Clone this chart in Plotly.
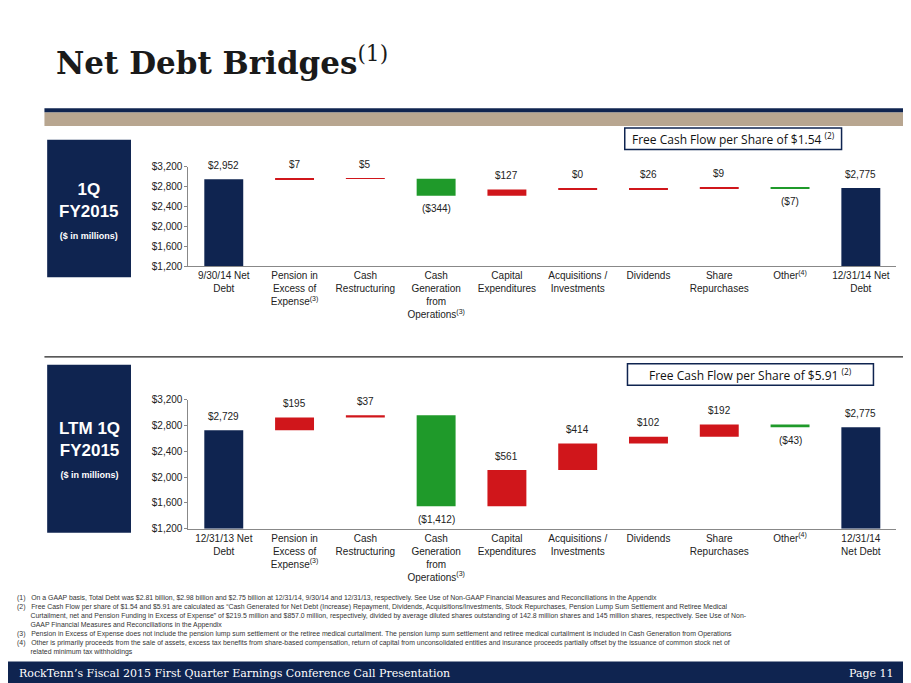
import plotly.graph_objects as go

cats_top = ["9/30/14 Net<br>Debt", "Pension in<br>Excess of<br>Expense<sup>(3)</sup>", "Cash<br>Restructuring",
            "Cash<br>Generation<br>from<br>Operations<sup>(3)</sup>", "Capital<br>Expenditures",
            "Acquisitions /<br>Investments", "Dividends", "Share<br>Repurchases", "Other<sup>(4)</sup>",
            "12/31/14 Net<br>Debt"]
cats_bot = ["12/31/13 Net<br>Debt", "Pension in<br>Excess of<br>Expense<sup>(3)</sup>", "Cash<br>Restructuring",
            "Cash<br>Generation<br>from<br>Operations<sup>(3)</sup>", "Capital<br>Expenditures",
            "Acquisitions /<br>Investments", "Dividends", "Share<br>Repurchases", "Other<sup>(4)</sup>",
            "12/31/14<br>Net Debt"]
top_vals = [2952, 7, 5, -344, 127, 0, 26, 9, -7, 2775]
bot_vals = [2729, 195, 37, -1412, 561, 414, 102, 192, -43, 2775]
tick_vals = [1200, 1600, 2000, 2400, 2800, 3200]

NAVY = "#0f2450"
RED = "#d0161b"
GREEN = "#1f9a2a"

fig = go.Figure()


def fmt(v):
    return f"(${abs(v):,})" if v < 0 else f"${v:,}"


def add_bridge(vals, xa, ya):
    run = vals[0]
    bases, heights, colors = [], [], []
    for i, v in enumerate(vals):
        if i == 0 or i == len(vals) - 1:
            bases.append(1200); heights.append(v - 1200); colors.append(NAVY)
        else:
            lo = run + min(v, 0)
            bases.append(lo); heights.append(max(abs(v), 12)); colors.append(GREEN if v < 0 else RED)
            run += v
    idx = list(range(len(vals)))
    fig.add_trace(go.Bar(x=idx, y=heights, base=bases, marker_color=colors, width=0.55,
                         marker_line_width=0, xaxis=xa, yaxis=ya, showlegend=False))
    for i, v in enumerate(vals):
        if v < 0:
            fig.add_annotation(x=i, y=bases[i], text=fmt(v), yshift=-13, showarrow=False,
                               xref=xa, yref=ya, font=dict(family="Liberation Sans", size=10, color="#222"))
        else:
            fig.add_annotation(x=i, y=bases[i] + heights[i], text=fmt(v), yshift=14, showarrow=False,
                               xref=xa, yref=ya, font=dict(family="Liberation Sans", size=10, color="#222"))


add_bridge(top_vals, "x", "y")
add_bridge(bot_vals, "x2", "y2")

axfont = dict(family="Liberation Sans", size=10, color="#222")
for name, cats in (("xaxis", cats_top), ("xaxis2", cats_bot)):
    fig.layout[name] = dict(domain=[0.198, 0.975], range=[-0.5, 9.5], tickvals=list(range(10)), ticktext=cats,
                            tickfont=axfont, showline=True, linecolor="#888", ticks="", showgrid=False)
fig.layout.xaxis.anchor = "y"
fig.layout.xaxis2.anchor = "y2"
for name, dom in (("yaxis", [0.624, 0.772]), ("yaxis2", [0.233, 0.425])):
    fig.layout[name] = dict(domain=dom, range=[1200, 3200], tickvals=tick_vals,
                            ticktext=[f"${t:,}" for t in tick_vals], tickfont=axfont,
                            showline=True, linecolor="#888", ticks="outside", ticklen=3, tickcolor="#888",
                            showgrid=False)
fig.layout.yaxis.anchor = "x"
fig.layout.yaxis2.anchor = "x2"

shapes = [
    dict(type="rect", xref="paper", yref="paper", x0=0.04, x1=1, y0=1 - 114 / 683, y1=1 - 100 / 683,
         fillcolor="#b8a690", line_width=0),
    dict(type="rect", xref="paper", yref="paper", x0=0.04, x1=1, y0=1 - 100 / 683, y1=1 - 96 / 683,
         fillcolor=NAVY, line_width=0),
    dict(type="rect", xref="paper", yref="paper", x0=0.043, x1=0.135, y0=1 - 268 / 683, y1=1 - 128 / 683,
         fillcolor=NAVY, line_width=0),
    dict(type="rect", xref="paper", yref="paper", x0=0.043, x1=0.135, y0=1 - 528 / 683, y1=1 - 357 / 683,
         fillcolor=NAVY, line_width=0),
    dict(type="line", xref="paper", yref="paper", x0=0.04, x1=0.985, y0=1 - 349 / 683, y1=1 - 349 / 683,
         line=dict(color="#222", width=1.2)),
    dict(type="rect", xref="paper", yref="paper", x0=0, x1=1, y0=0, y1=24 / 683,
         fillcolor=NAVY, line_width=0),
    dict(type="rect", xref="paper", yref="paper", x0=0.677, x1=0.915, y0=1 - 138 / 683, y1=1 - 116 / 683,
         fillcolor="white", line=dict(color=NAVY, width=1.5)),
    dict(type="rect", xref="paper", yref="paper", x0=0.68, x1=0.95, y0=1 - 378 / 683, y1=1 - 356 / 683,
         fillcolor="white", line=dict(color=NAVY, width=1.5)),
]
fig.update_layout(shapes=shapes)

ann = [
    dict(x=0.05, y=1 - 48 / 683, text="<b>Net Debt Bridges</b><sup>(1)</sup>",
         font=dict(family="DejaVu Serif", size=31, color="#1a1a1a")),
    dict(x=0.089, y=1 - 200 / 683, text="<b>1Q<br>FY2015</b><br><span style='font-size:9px'><b>($ in millions)</b></span>",
         xanchor="center", font=dict(family="Liberation Sans", size=17, color="white")),
    dict(x=0.089, y=1 - 443 / 683, text="<b>LTM 1Q<br>FY2015</b><br><span style='font-size:9px'><b>($ in millions)</b></span>",
         xanchor="center", font=dict(family="Liberation Sans", size=17, color="white")),
    dict(x=0.796, y=1 - 127 / 683, text="Free Cash Flow per Share of $1.54 <sup>(2)</sup>", xanchor="center",
         font=dict(family="Open Sans", size=12, color="#111")),
    dict(x=0.815, y=1 - 367 / 683, text="Free Cash Flow per Share of $5.91 <sup>(2)</sup>", xanchor="center",
         font=dict(family="Open Sans", size=12, color="#111")),
    dict(x=0.01, y=12 / 683, text="RockTenn’s Fiscal 2015 First Quarter Earnings Conference Call Presentation",
         font=dict(family="DejaVu Serif", size=11, color="white")),
    dict(x=0.975, y=12 / 683, text="Page 11", xanchor="right",
         font=dict(family="DejaVu Serif", size=11, color="white")),
]
notes = [
    "(1)   On a GAAP basis, Total Debt was $2.81 billion, $2.98 billion and $2.75 billion at 12/31/14, 9/30/14 and 12/31/13, respectively. See Use of Non-GAAP Financial Measures and Reconciliations in the Appendix",
    "(2)   Free Cash Flow per share of $1.54 and $5.91 are calculated as “Cash Generated for Net Debt (Increase) Repayment, Dividends, Acquisitions/Investments, Stock Repurchases, Pension Lump Sum Settlement and Retiree Medical",
    "       Curtailment, net and Pension Funding in Excess of Expense” of $219.5 million and $857.0 million, respectively, divided by average diluted shares outstanding of 142.8 million shares and 145 million shares, respectively. See Use of Non-",
    "       GAAP Financial Measures and Reconciliations in the Appendix",
    "(3)   Pension in Excess of Expense does not include the pension lump sum settlement or the retiree medical curtailment. The pension lump sum settlement and retiree medical curtailment is included in Cash Generation from Operations",
    "(4)   Other is primarily proceeds from the sale of assets, excess tax benefits from share-based compensation, return of capital from unconsolidated entities and insurance proceeds partially offset by the issuance of common stock net of",
    "       related minimum tax withholdings",
]
for i, n in enumerate(notes):
    ann.append(dict(x=0.008, y=1 - (594 + i * 9.3) / 683, text=n,
                    font=dict(family="Liberation Sans", size=6.9, color="#333")))
for a in ann:
    a.update(xref="paper", yref="paper", showarrow=False, xanchor=a.get("xanchor", "left"), yanchor="middle")
    fig.add_annotation(**a)

fig.update_layout(width=911, height=683, margin=dict(l=0, r=0, t=0, b=0),
                  plot_bgcolor="white", paper_bgcolor="white")
fig.write_html("out.html")
